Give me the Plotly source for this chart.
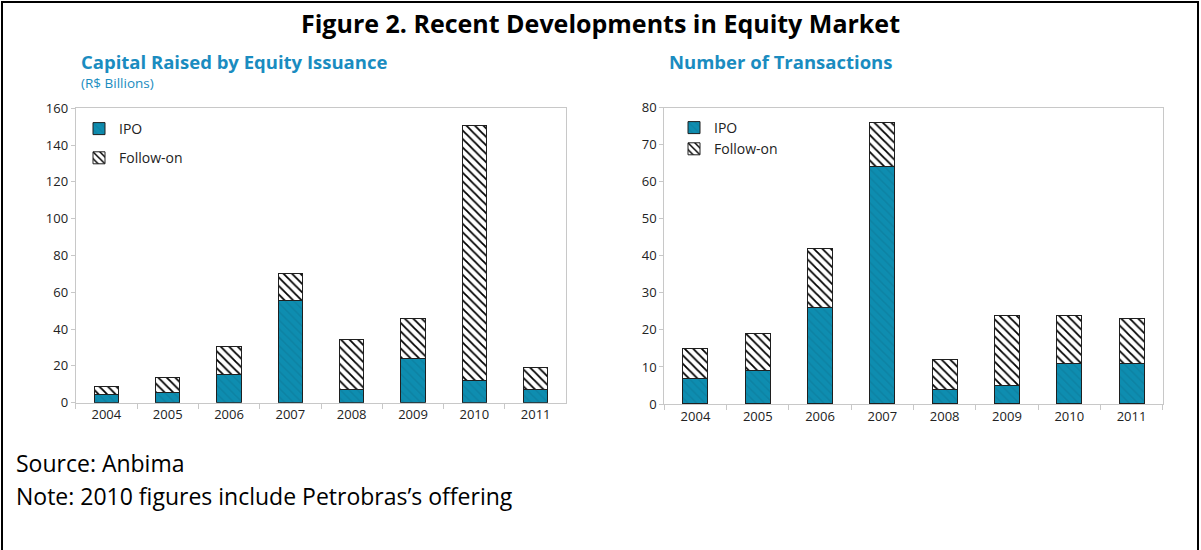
import plotly.graph_objects as go

years = ["2004", "2005", "2006", "2007", "2008", "2009", "2010", "2011"]
# Capital raised (R$ billions)
cap_ipo = [4.5, 5.4, 15.6, 55.8, 7.4, 23.9, 11.8, 7.4]
cap_follow = [4.4, 8.5, 14.8, 14.3, 27.0, 22.1, 138.9, 11.8]
# Number of transactions
num_ipo = [7, 9, 26, 64, 4, 5, 11, 11]
num_follow = [8, 10, 16, 12, 8, 19, 13, 12]

W, H = 1201, 550
FONT = "Open Sans"
TEAL = "#0E8DB0"
BLUE = "#1A8CC0"
AXC = "#C8C8C8"

def px_x(v):
    return v / W

def px_y(v):
    return 1 - v / H

ipo_marker = dict(color=TEAL, line=dict(color="#1f1f1f", width=1),
                  pattern=dict(shape="\\", bgcolor=TEAL, fgcolor="#0a6d88",
                               fgopacity=0.35, size=6, solidity=0.25))
fo_marker = dict(color="white", line=dict(color="#1f1f1f", width=1),
                 pattern=dict(shape="\\", bgcolor="white", fgcolor="black",
                              fgopacity=1, size=6, solidity=0.3))

fig = go.Figure()
fig.add_trace(go.Bar(x=years, y=cap_ipo, name="IPO", marker=ipo_marker,
                     xaxis="x", yaxis="y", legend="legend", legendgroup="a1"))
fig.add_trace(go.Bar(x=years, y=cap_follow, name="Follow-on", marker=fo_marker,
                     xaxis="x", yaxis="y", legend="legend", legendgroup="a2"))
fig.add_trace(go.Bar(x=years, y=num_ipo, name="IPO", marker=ipo_marker,
                     xaxis="x2", yaxis="y2", legend="legend2", legendgroup="b1"))
fig.add_trace(go.Bar(x=years, y=num_follow, name="Follow-on", marker=fo_marker,
                     xaxis="x2", yaxis="y2", legend="legend2", legendgroup="b2"))

xcommon = dict(type="category", showgrid=False, showline=True, linecolor=AXC,
               linewidth=1, mirror=True, ticks="outside", ticklen=5,
               tickcolor=AXC, tickson="boundaries", automargin=False,
               tickfont=dict(family=FONT, size=13, color="#222"), zeroline=False,
               fixedrange=True)
ycommon = dict(showgrid=False, showline=True, linecolor=AXC, linewidth=1,
               mirror=True, ticks="outside", ticklen=4, tickcolor=AXC,
               automargin=False, zeroline=False,
               tickfont=dict(family=FONT, size=13, color="#222"), fixedrange=True)

fig.update_layout(
    width=W, height=H,
    margin=dict(l=0, r=0, t=0, b=0),
    paper_bgcolor="white", plot_bgcolor="white",
    barmode="stack", bargap=0.6,
    font=dict(family=FONT, color="#222"),
    xaxis=dict(xcommon, domain=[px_x(75.7), px_x(566.3)], anchor="y"),
    yaxis=dict(ycommon, domain=[px_y(402.7), px_y(108.3)], range=[0, 160],
               dtick=20, anchor="x"),
    xaxis2=dict(xcommon, domain=[px_x(664.3), px_x(1162.7)], anchor="y2"),
    yaxis2=dict(ycommon, domain=[px_y(404), px_y(107.7)], range=[0, 80],
                dtick=10, anchor="x2"),
    legend=dict(x=px_x(79), y=px_y(113), xanchor="left", yanchor="top",
                bgcolor="rgba(0,0,0,0)", tracegroupgap=8,
                font=dict(family=FONT, size=14, color="#222")),
    legend2=dict(x=px_x(674), y=px_y(112), xanchor="left", yanchor="top",
                 bgcolor="rgba(0,0,0,0)", tracegroupgap=0,
                 font=dict(family=FONT, size=14, color="#222")),
    showlegend=True,
)

fig.add_annotation(text="<b>Figure 2. Recent Developments in Equity Market</b>",
                   x=px_x(600), y=px_y(23), xref="paper", yref="paper",
                   xanchor="center", yanchor="middle", showarrow=False,
                   font=dict(family=FONT, size=25, color="black"))
fig.add_annotation(text="<b>Capital Raised by Equity Issuance</b>",
                   x=px_x(79), y=px_y(61), xref="paper", yref="paper",
                   xanchor="left", yanchor="middle", showarrow=False,
                   font=dict(family=FONT, size=18.5, color=BLUE))
fig.add_annotation(text="(R$ Billions)",
                   x=px_x(79), y=px_y(83), xref="paper", yref="paper",
                   xanchor="left", yanchor="middle", showarrow=False,
                   font=dict(family=FONT, size=13.5, color=BLUE))
fig.add_annotation(text="<b>Number of Transactions</b>",
                   x=px_x(667), y=px_y(61), xref="paper", yref="paper",
                   xanchor="left", yanchor="middle", showarrow=False,
                   font=dict(family=FONT, size=18.5, color=BLUE))
fig.add_annotation(text="Source: Anbima",
                   x=px_x(14), y=px_y(463), xref="paper", yref="paper",
                   xanchor="left", yanchor="middle", showarrow=False,
                   font=dict(family=FONT, size=23, color="black"))
fig.add_annotation(text="Note: 2010 figures include Petrobras’s offering",
                   x=px_x(14), y=px_y(496), xref="paper", yref="paper",
                   xanchor="left", yanchor="middle", showarrow=False,
                   font=dict(family=FONT, size=23, color="black"))

fig.add_shape(type="rect", xref="paper", yref="paper",
              x0=px_x(2), x1=px_x(1198), y0=-0.05, y1=px_y(2),
              line=dict(color="black", width=2), fillcolor="rgba(0,0,0,0)")

fig.write_html("out.html",
               config={"displayModeBar": False},
               post_script="document.body.style.margin='0px';"
                           "document.body.style.overflow='hidden';")
